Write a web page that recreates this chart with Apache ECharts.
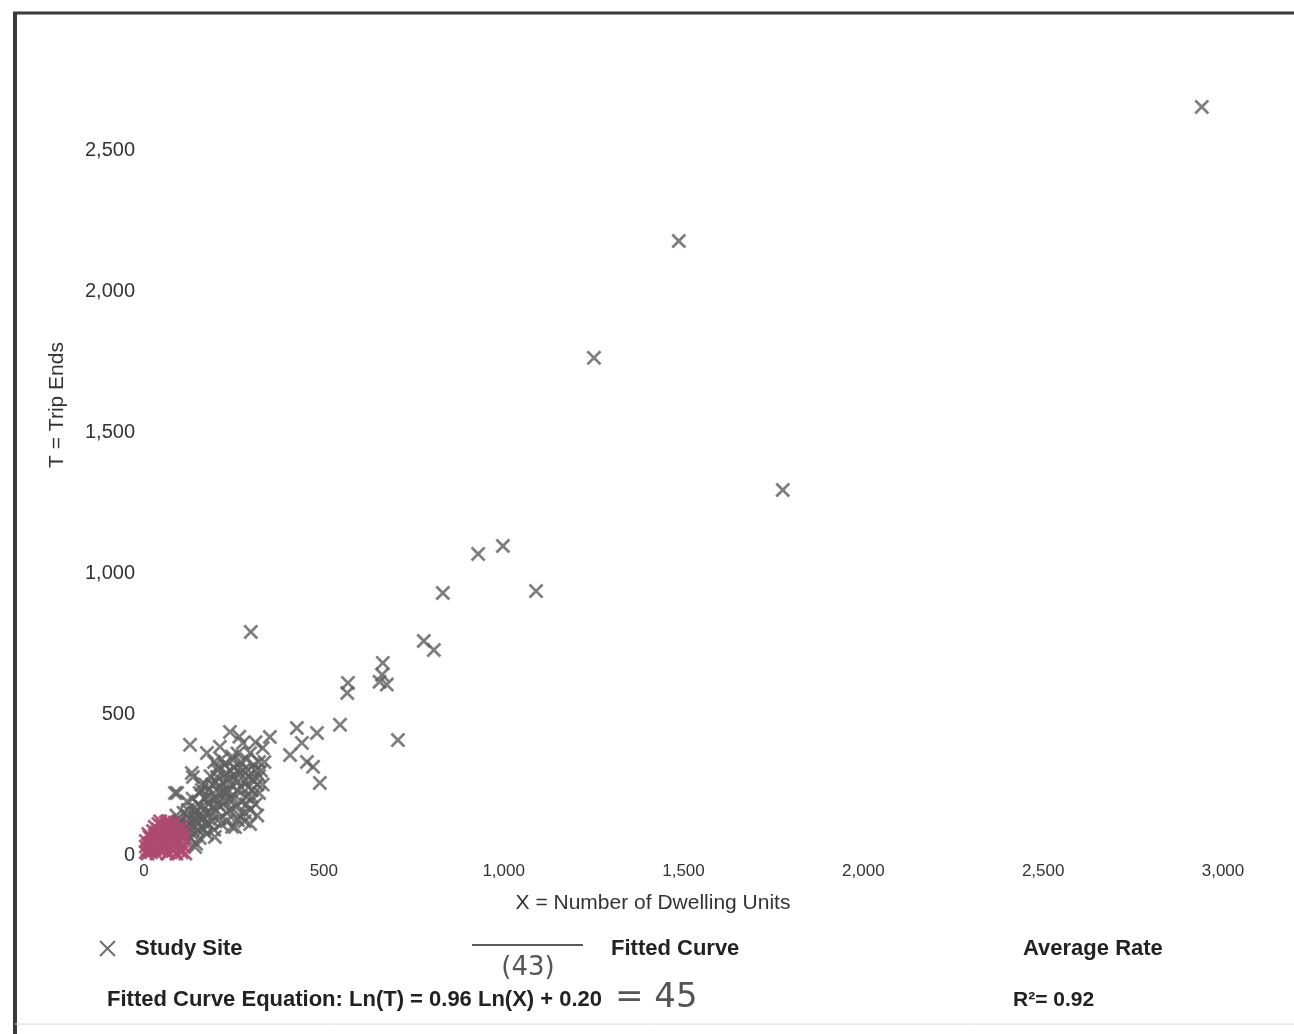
<!DOCTYPE html>
<html>
<head>
<meta charset="utf-8">
<style>
  html, body { margin: 0; padding: 0; background: #ffffff; }
  #chart { width: 1294px; height: 1034px; }
</style>
<script src="https://cdn.jsdelivr.net/npm/echarts@6/dist/echarts.min.js"></script>
</head>
<body>
<div id="chart"></div>
<script>
// Tick values for both axes
const xTicks = [0, 500, 1000, 1500, 2000, 2500, 3000];
const yTicks = [0, 500, 1000, 1500, 2000, 2500];

// Study sites: [dwelling units, trip ends]
const studySites = [
  [2941, 2656], [1487, 2180], [1251, 1765], [1776, 1296], [998, 1097], [929, 1069],
  [1090, 937], [831, 930], [297, 792], [778, 760], [806, 728], [706, 408],
  [664, 682], [662, 640], [655, 615], [675, 605], [567, 611], [565, 575], [545, 462],
  [128, 391], [239, 437], [350, 419], [425, 451], [481, 433], [439, 398], [406, 355],
  [453, 330], [470, 313], [489, 256], [175, 362], [211, 384], [275, 398], [295, 362],
  [247, 337], [136, 277], [203, 277], [267, 291], [303, 266], [231, 220], [175, 206],
  [286, 206], [92, 220], [147, 160], [239, 160], [295, 160],
  [133, 291], [206, 313], [289, 302], [86, 220], [161, 231], [234, 231], [300, 206],
  [122, 160], [189, 170], [261, 124], [253, 99], [161, 99], [114, 78], [197, 64],
  [67, 99], [95, 43], [142, 28],
  [100, 120], [120, 140], [140, 150], [150, 180], [170, 200], [180, 230], [190, 250],
  [200, 260], [210, 220], [220, 260], [230, 290], [240, 250], [250, 280], [260, 300],
  [270, 330], [280, 260], [290, 240], [300, 270], [310, 300], [320, 330], [260, 230],
  [250, 200], [270, 190], [225, 190], [205, 180], [185, 150], [165, 130], [145, 120],
  [125, 110], [110, 90], [130, 80], [150, 90], [170, 110], [190, 120], [155, 60],
  [175, 75], [210, 130], [230, 150], [280, 150], [315, 250], [320, 280], [245, 350],
  [260, 360], [285, 340], [330, 380], [310, 400], [265, 420], [215, 340], [195, 330],
  [160, 250],
  [60, 70], [70, 120], [80, 60], [90, 140], [95, 110], [105, 70], [110, 150], [115, 50],
  [120, 190], [125, 130], [130, 60], [135, 200], [140, 100], [145, 40], [150, 140],
  [155, 220], [160, 170], [165, 90], [170, 250], [175, 150], [180, 110], [185, 280],
  [190, 200], [195, 90], [200, 160], [205, 300], [210, 240], [215, 110], [220, 180],
  [225, 320], [230, 120], [235, 270], [240, 200], [245, 100], [250, 310], [255, 170],
  [260, 260], [265, 140], [270, 240], [275, 300], [280, 120], [285, 180], [290, 280],
  [295, 110], [300, 230], [305, 320], [310, 180], [315, 140], [320, 220], [325, 300],
  [330, 250], [335, 330], [200, 200], [180, 180], [160, 140], [140, 130], [120, 100],
  [100, 100], [240, 300], [220, 220]
];

// Smallest sites, drawn in the highlight colour
const smallSites = [
  [10, 20], [15, 40], [20, 60], [25, 30], [30, 50], [35, 80], [40, 20], [45, 45],
  [50, 70], [55, 95], [60, 30], [65, 55], [70, 85], [75, 110], [80, 40], [85, 65],
  [90, 90], [95, 50], [100, 75], [105, 100], [20, 10], [50, 15], [80, 15], [110, 30],
  [30, 100], [40, 110], [60, 115], [12, 75], [5, 10], [70, 10], [100, 20], [110, 60],
  [25, 85], [45, 120],
  [5, 30], [5, 50], [10, 5], [15, 65], [20, 40], [30, 20], [30, 70], [35, 5], [40, 60],
  [40, 90], [50, 40], [50, 105], [55, 20], [60, 60], [60, 90], [65, 5], [70, 40],
  [70, 100], [75, 70], [80, 100], [85, 25], [90, 5], [90, 60], [95, 85], [100, 45],
  [105, 10], [110, 80], [115, 5], [15, 15], [35, 35], [55, 55], [75, 25], [85, 115],
  [65, 120]
];

// Filled "x" glyph used for every study-site marker
const crossPath = 'path://M0,1.3 L1.3,0 L5,3.7 L8.7,0 L10,1.3 L6.3,5 L10,8.7 L8.7,10 L5,6.3 L1.3,10 L0,8.7 L3.7,5 Z';

const fmt = v => v.toLocaleString('en-US');

const chart = echarts.init(document.getElementById('chart'), null, { renderer: 'canvas' });

const font = 'Liberation Sans, Arial, sans-serif';
const hand = 'DejaVu Sans, sans-serif';

chart.setOption({
  backgroundColor: '#ffffff',
  animation: false,
  grid: { left: 144, right: 71, top: 10, bottom: 179 },
  xAxis: {
    type: 'value',
    min: xTicks[0],
    max: xTicks[xTicks.length - 1],
    interval: 500,
    axisLine: { show: false },
    axisTick: { show: false },
    splitLine: { show: false },
    axisLabel: {
      color: '#333', fontFamily: font, fontSize: 17, margin: 8,
      formatter: v => xTicks.includes(v) ? fmt(v) : ''
    }
  },
  yAxis: {
    type: 'value',
    min: 0,
    max: 3000,
    interval: 500,
    axisLine: { show: false },
    axisTick: { show: false },
    splitLine: { show: false },
    axisLabel: {
      color: '#333', fontFamily: font, fontSize: 20, margin: 9,
      formatter: v => yTicks.includes(v) ? fmt(v) : ''
    }
  },
  series: [
    {
      name: 'Study Site',
      type: 'scatter',
      symbol: crossPath,
      symbolSize: 15,
      itemStyle: { color: '#5e5e5e' },
      data: studySites,
      z: 2
    },
    {
      name: 'Small Sites',
      type: 'scatter',
      symbol: crossPath,
      symbolSize: 15,
      itemStyle: { color: '#ad4a6e', opacity: 0.9 },
      data: smallSites,
      z: 3
    }
  ],
  graphic: [
    // page frame
    { type: 'line', shape: { x1: 15, y1: 12, x2: 15, y2: 1034 }, style: { stroke: '#3a3a3a', lineWidth: 4 } },
    { type: 'line', shape: { x1: 13, y1: 13, x2: 1294, y2: 13 }, style: { stroke: '#3a3a3a', lineWidth: 3 } },
    { type: 'line', shape: { x1: 15, y1: 1024, x2: 1294, y2: 1024 }, style: { stroke: '#d8d8d8', lineWidth: 1 } },
    // axis titles
    { type: 'text', x: 653, y: 903, style: { text: 'X = Number of Dwelling Units', font: '21px ' + font, fill: '#333', align: 'center', verticalAlign: 'middle' } },
    { type: 'text', x: 57, y: 405, rotation: Math.PI / 2, style: { text: 'T = Trip Ends', font: '21px ' + font, fill: '#333', align: 'center', verticalAlign: 'middle' } },
    // legend
    { type: 'line', shape: { x1: 100, y1: 941, x2: 115, y2: 956 }, style: { stroke: '#6a6a6a', lineWidth: 1.8 } },
    { type: 'line', shape: { x1: 115, y1: 941, x2: 100, y2: 956 }, style: { stroke: '#6a6a6a', lineWidth: 1.8 } },
    { type: 'text', x: 135, y: 949, style: { text: 'Study Site', font: 'bold 22px ' + font, fill: '#222', verticalAlign: 'middle' } },
    { type: 'line', shape: { x1: 472, y1: 945, x2: 583, y2: 945 }, style: { stroke: '#222', lineWidth: 1.5 } },
    { type: 'text', x: 611, y: 949, style: { text: 'Fitted Curve', font: 'bold 22px ' + font, fill: '#222', verticalAlign: 'middle' } },
    { type: 'text', x: 1023, y: 949, style: { text: 'Average Rate', font: 'bold 22px ' + font, fill: '#222', verticalAlign: 'middle' } },
    { type: 'text', x: 107, y: 1000, style: { text: 'Fitted Curve Equation: Ln(T) = 0.96 Ln(X) + 0.20', font: 'bold 22px ' + font, fill: '#222', verticalAlign: 'middle' } },
    { type: 'text', x: 1013, y: 1000, style: { text: 'R²= 0.92', font: 'bold 21px ' + font, fill: '#222', verticalAlign: 'middle' } },
    // handwritten notes
    { type: 'text', x: 528, y: 968, style: { text: '(43)', font: '26px ' + hand, fill: '#555', align: 'center', verticalAlign: 'middle' } },
    { type: 'text', x: 615, y: 998, style: { text: '= 45', font: '34px ' + hand, fill: '#555', verticalAlign: 'middle' } }
  ]
});
</script>
</body>
</html>
